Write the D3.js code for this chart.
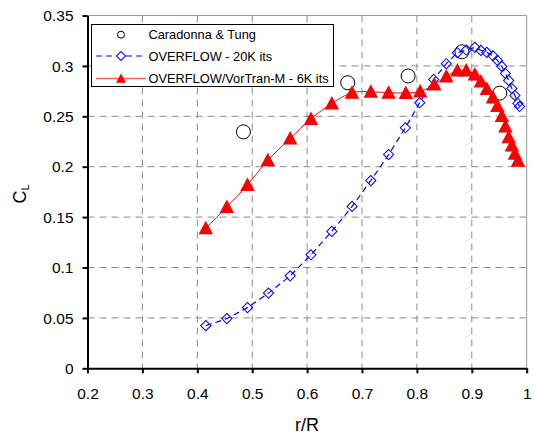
<!DOCTYPE html>
<html><head><meta charset="utf-8">
<script src="https://cdn.jsdelivr.net/npm/d3@7"></script>
<style>html,body{margin:0;padding:0;background:#fff;}svg{display:block;font-family:"Liberation Sans",Arial,sans-serif;}</style>
</head><body><svg id="c" width="534" height="434"></svg>
<script>
const xTicks=[0.2,0.3,0.4,0.5,0.6,0.7,0.8,0.9,1.0];
const yTicks=[0,0.05,0.1,0.15,0.2,0.25,0.3,0.35];
const seriesNames=["Caradonna & Tung","OVERFLOW - 20K its","OVERFLOW/VorTran-M - 6K its"];
// Experimental (Caradonna & Tung)
const expR=[0.484,0.674,0.784,0.882,0.951];
const expCL=[0.2346,0.2833,0.290,0.314,0.273];
// OVERFLOW - 20K its
const ovR=[0.4155,0.4538,0.4914,0.5297,0.5692,0.607,0.645,0.682,0.716,0.7485,0.779,0.805,0.8305,0.8536,0.8737,0.890,0.9056,0.9165,0.9274,0.9384,0.9466,0.9548,0.9612,0.9672,0.973,0.9785,0.984,0.987];
const ovCL=[0.0423,0.0493,0.0602,0.0746,0.0917,0.1126,0.1358,0.1606,0.1862,0.212,0.2386,0.2634,0.2866,0.3022,0.3131,0.3157,0.3184,0.3154,0.3134,0.310,0.3055,0.2995,0.2925,0.2856,0.2776,0.2707,0.2627,0.2597];
// OVERFLOW/VorTran-M - 6K its
const vtR=[0.4155,0.4538,0.4914,0.5285,0.5692,0.607,0.645,0.6817,0.716,0.7484,0.7798,0.806,0.8317,0.8536,0.8737,0.890,0.9056,0.9165,0.9274,0.9384,0.9466,0.9548,0.9612,0.9672,0.973,0.9785,0.984];
const vtCL=[0.139,0.160,0.182,0.2064,0.228,0.2475,0.2627,0.2734,0.2744,0.2734,0.2732,0.2746,0.2816,0.2896,0.2955,0.2955,0.2916,0.2846,0.2771,0.2687,0.2602,0.2503,0.2399,0.2294,0.221,0.213,0.206];

const svg=d3.select("#c");
svg.append("rect").attr("class","bg").attr("width",534).attr("height",434).attr("fill","#fff");
const L=87.5,R=526.7,T=15.5,B=368.3;
const x=d3.scaleLinear().domain([0.2,1.0]).range([L,R]);
const y=d3.scaleLinear().domain([0,0.35]).range([B,T]);

// gridlines
const g=svg.append("g").attr("class","grid");
g.selectAll("line.vx").data(xTicks.slice(1,-1)).enter().append("line").attr("class","vx")
 .attr("x1",d=>x(d)).attr("x2",d=>x(d)).attr("y1",T).attr("y2",B)
 .attr("stroke","#8c8c8c").attr("stroke-width",1).attr("stroke-dasharray","7,5");
g.selectAll("line.hy").data(yTicks.slice(1,-1)).enter().append("line").attr("class","hy")
 .attr("x1",L).attr("x2",R).attr("y1",d=>y(d)).attr("y2",d=>y(d))
 .attr("stroke","#8c8c8c").attr("stroke-width",1).attr("stroke-dasharray","7,5");
// top & right frame
svg.append("line").attr("x1",L).attr("x2",R).attr("y1",T).attr("y2",T).attr("stroke","#9a9a9a");
svg.append("line").attr("x1",R).attr("x2",R).attr("y1",T).attr("y2",B).attr("stroke","#9a9a9a");

// axes
const fmt=d=>String(+d.toFixed(2));
const xa=svg.append("g").attr("transform",`translate(0,${B})`)
 .call(d3.axisBottom(x).tickValues(xTicks).tickSize(5).tickSizeOuter(0).tickPadding(15).tickFormat(fmt));
const ya=svg.append("g").attr("transform",`translate(${L},0)`)
 .call(d3.axisLeft(y).tickValues(yTicks).tickSize(5).tickSizeOuter(0).tickPadding(9).tickFormat(fmt));
[xa,ya].forEach(a=>{
 a.select(".domain").attr("stroke","#000").attr("stroke-width",2);
 a.selectAll(".tick line").attr("stroke","#000").attr("stroke-width",2);
 a.selectAll("text").attr("font-size","15.5px").attr("fill","#000").attr("font-family","Liberation Sans, Arial, sans-serif");
});
ya.selectAll("text").attr("dy","0.34em");

// titles
svg.append("text").attr("x",(L+R)/2).attr("y",431).attr("text-anchor","middle")
 .attr("font-size","18px").text("r/R");
const yt=svg.append("text").attr("transform","translate(25.5,194) rotate(-90)").attr("text-anchor","middle").attr("font-size","18px");
yt.append("tspan").text("C");
yt.append("tspan").attr("font-size","11px").attr("dy","3").text("L");

// series
const triPath=(cx,cy,s)=>{const h=s*0.93;return `M${cx},${cy-h*0.55}L${cx+s/2},${cy+h*0.45}L${cx-s/2},${cy+h*0.45}Z`;};
// circles
svg.append("g").attr("class","exp").selectAll("circle").data(expR.map((r,i)=>[r,expCL[i]])).enter().append("circle")
 .attr("cx",d=>x(d[0])).attr("cy",d=>y(d[1])).attr("r",7).attr("fill","none").attr("stroke","#000").attr("stroke-width",1);
// blue
const ovData=ovR.map((r,i)=>[r,ovCL[i]]);
svg.append("path").attr("class","ovline").datum(ovData).attr("d",d3.line().x(d=>x(d[0])).y(d=>y(d[1])))
 .attr("fill","none").attr("stroke","#0000ff").attr("stroke-width",1.2).attr("stroke-dasharray","6,4");
svg.append("g").attr("class","ovpts").selectAll("rect").data(ovData).enter().append("rect")
 .attr("x",-3.6).attr("y",-3.6).attr("width",7.2).attr("height",7.2)
 .attr("transform",d=>`translate(${x(d[0])},${y(d[1])}) rotate(45)`)
 .attr("fill","none").attr("stroke","#0000ff").attr("stroke-width",1);
// red
const vtData=vtR.map((r,i)=>[r,vtCL[i]]);
svg.append("path").attr("class","vtline").datum(vtData).attr("d",d3.line().curve(d3.curveCatmullRom.alpha(0.5)).x(d=>x(d[0])).y(d=>y(d[1])))
 .attr("fill","none").attr("stroke","#ff0000").attr("stroke-width",1);
svg.append("g").attr("class","vtpts").selectAll("path").data(vtData).enter().append("path")
 .attr("d",d=>triPath(x(d[0]),y(d[1]),14.5))
 .attr("fill","#ff0000").attr("stroke","none");

// legend
const lg=svg.append("g").attr("class","legend");
lg.append("rect").attr("x",91.5).attr("y",24.5).attr("width",242).attr("height",62)
 .attr("fill","#fff").attr("stroke","#000").attr("stroke-width",1);
const rows=[34.7,56,78.5];
lg.append("circle").attr("cx",121).attr("cy",rows[0]).attr("r",3.5).attr("fill","none").attr("stroke","#000");
lg.append("line").attr("x1",96).attr("x2",146).attr("y1",rows[1]).attr("y2",rows[1]).attr("stroke","#0000ff").attr("stroke-width",1.2).attr("stroke-dasharray","6,4");
lg.append("rect").attr("x",-3.2).attr("y",-3.2).attr("width",6.4).attr("height",6.4)
 .attr("transform",`translate(121,${rows[1]}) rotate(45)`).attr("fill","#fff").attr("stroke","#0000ff");
lg.append("line").attr("x1",96).attr("x2",146).attr("y1",rows[2]).attr("y2",rows[2]).attr("stroke","#ff6060").attr("stroke-width",1.5);
lg.append("path").attr("d",triPath(121,rows[2],10)).attr("fill","#ff0000");
lg.selectAll("text").data(seriesNames).enter().append("text")
 .attr("x",148.5).attr("y",(d,i)=>rows[i]).attr("dy","0.36em").attr("font-size","12.8px").text(d=>d);
</script></body></html>
